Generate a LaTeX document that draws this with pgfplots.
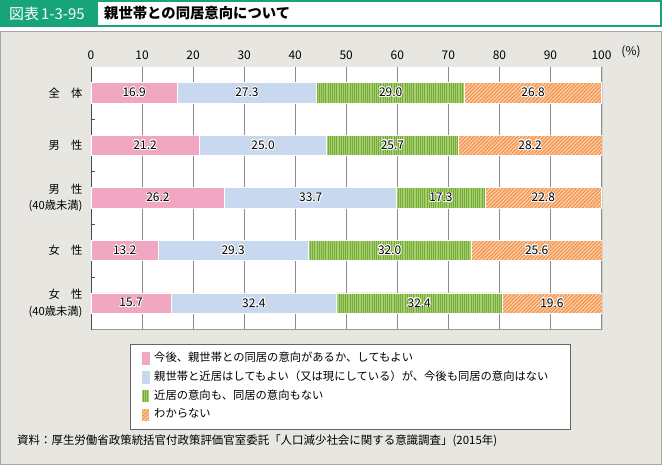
\documentclass[border=0pt]{standalone}
\usepackage{fontspec}
\setmainfont{Noto Sans CJK JP}
\usepackage{pgfplots}
\pgfplotsset{compat=1.18}
\usetikzlibrary{patterns.meta}
\usepackage{contour}
\contourlength{0.8pt}
\definecolor{cpink}{HTML}{F1A7C1}
\definecolor{cblue}{HTML}{C8D8EE}
\definecolor{cgreen}{HTML}{A6CF6E}
\definecolor{cgreenD}{HTML}{76AA3C}
\definecolor{corange}{HTML}{F59A55}
\definecolor{corangeL}{HTML}{FDDCC2}
\definecolor{hgreen}{HTML}{18A47A}
\definecolor{panelbg}{HTML}{E7E6E0}
\definecolor{panelborder}{HTML}{A8A8A8}
\definecolor{gridgray}{HTML}{8C8C8C}
\begin{document}
\begin{tikzpicture}[x=1bp,y=1bp]
\useasboundingbox (0bp,0bp) rectangle (662bp,465bp);
\fill[panelbg] (0bp,0bp) rectangle (662bp,434bp);
\draw[panelborder, line width=1.2bp] (0.6bp,0.6bp) rectangle (661.4bp,433.6bp);
\fill[white] (0bp,438bp) rectangle (662bp,465bp);
\fill[hgreen] (0bp,438bp) rectangle (98bp,465bp);
\draw[hgreen, line width=2bp] (1bp,439bp) rectangle (661bp,464bp);
\node[anchor=west, text=white, font=\fontsize{15}{16}\selectfont, inner sep=0] at (9bp,451.5bp) {図表\kern2bp 1-3-95};
\node[anchor=west, font=\fontsize{14.4}{16}\selectfont\bfseries, inner sep=0] at (104bp,451.5bp) {親世帯との同居意向について};
\begin{axis}[
  at={(91bp,135.5bp)}, anchor=south west, scale only axis,
  width=511bp, height=263bp,
  xbar stacked, bar width=20.5bp, bar shift=0pt,
  xmin=0, xmax=100.1, ymin=-0.5, ymax=4.5, y dir=reverse,
  xtick={0,10,...,100},
  xtick pos=upper, xticklabel pos=upper,
  ytick pos=left,
  ytick={0,1,2,3,4},
  yticklabels={全　体, 男　性, {男　性\\(40歳未満)}, 女　性, {女　性\\(40歳未満)}},
  minor ytick={0.5,1.5,2.5,3.5},
  major tick length=0pt, minor tick length=4bp,
  minor tick style={black!70, line width=0.8bp},
  axis line style={draw=none},
  axis background/.style={fill=white},
  xmajorgrids, major grid style={gridgray, line width=0.6bp},
  /pgf/number format/assume math mode=true,
  xticklabel style={font=\fontsize{12}{14}\selectfont, yshift=3bp},
  yticklabel style={font=\fontsize{11.3}{16.5}\selectfont, align=right, xshift=-5bp},
  visualization depends on=rawx\as\rawx,
  nodes near coords={\contour{white}{\pgfmathprintnumber[fixed,precision=1,fixed zerofill]{\rawx}}},
  every node near coord/.append style={anchor=center, font=\fontsize{12}{13}\selectfont},
  legend image code/.code={\path[#1, draw=none] (0bp,-6.5bp) rectangle (8bp,6.5bp);},
  legend cell align=left,
  legend style={at={(axis description cs:0.0763,-0.0568)}, anchor=north west,
    draw=black!60, line width=0.9bp, fill=white,
    font=\fontsize{11.35}{13}\selectfont,
    inner xsep=11bp, inner ysep=7bp, row sep=4.7bp,
    nodes={inner sep=1bp, text height=9bp, text depth=3bp},
    /tikz/every odd column/.append style={column sep=3bp},
    /tikz/every even column/.append style={text width=404bp}},
]
\addplot[fill=cpink, draw=white, line width=0.8bp] coordinates {(16.9,0) (21.2,1) (26.2,2) (13.2,3) (15.7,4)};
\addplot[fill=cblue, draw=white, line width=0.8bp] coordinates {(27.3,0) (25.0,1) (33.7,2) (29.3,3) (32.4,4)};
\addplot[fill=cgreen, draw=white, line width=0.8bp, postaction={pattern={Lines[angle=90,distance=2.2bp,line width=0.6bp]}, pattern color=cgreenD}] coordinates {(29.0,0) (25.7,1) (17.3,2) (32.0,3) (32.4,4)};
\addplot[fill=corange, draw=white, line width=0.8bp, postaction={pattern={Lines[angle=45,distance=2.6bp,line width=0.8bp]}, pattern color=corangeL}] coordinates {(26.8,0) (28.2,1) (22.8,2) (25.6,3) (19.6,4)};
\legend{今後、親世帯との同居の意向があるか、してもよい, 親世帯と近居はしてもよい（又は現にしている）が、今後も同居の意向はない, 近居の意向も、同居の意向もない, わからない}
\draw[black!70, line width=1bp] (axis cs:0,-0.5) -- (axis cs:0,4.5);
\draw[black!80, line width=1bp] (axis cs:100.1,-0.5) -- (axis cs:100.1,4.5);
\draw[black!40, line width=1bp] (axis cs:0,4.5) -- (axis cs:100.1,4.5);
\end{axis}
\node[font=\fontsize{12}{14}\selectfont] at (631bp,413bp) {(\%)};
\node[anchor=west, font=\fontsize{11.5}{13}\selectfont, inner sep=0] at (17bp,24bp) {資料：厚生労働省政策統括官付政策評価官室委託「人口減少社会に関する意識調査」(2015年)};
\end{tikzpicture}
\end{document}
